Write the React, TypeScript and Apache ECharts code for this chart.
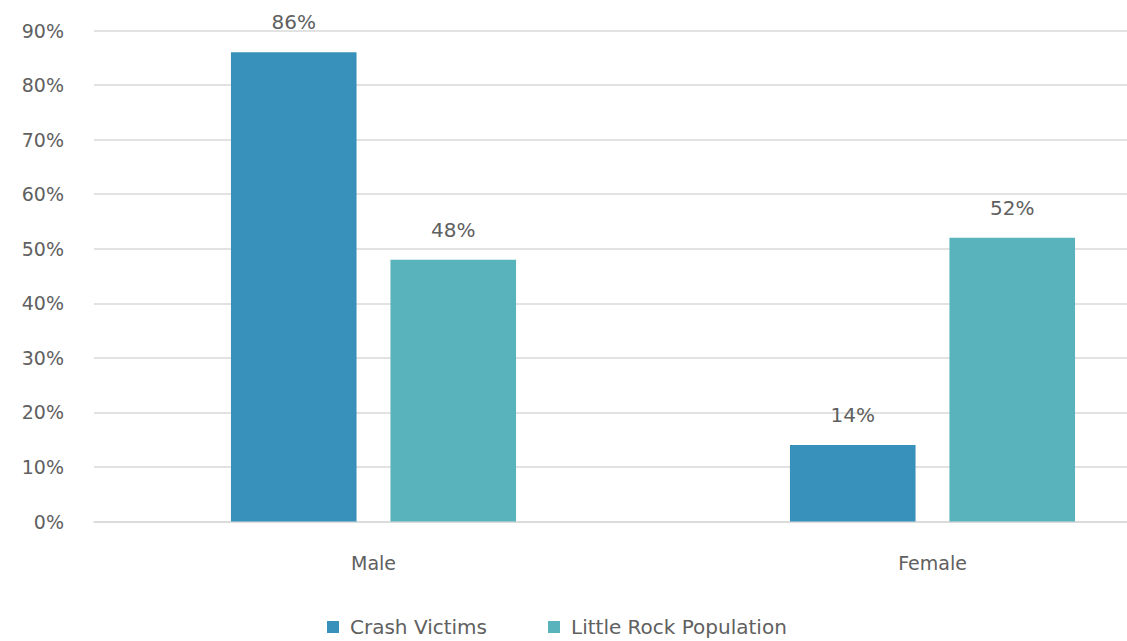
import React, { useEffect, useRef } from "react";
import * as echarts from "echarts";

const categories = ["Male", "Female"];
const crashVictims = [86, 14];
const population = [48, 52];
const seriesNames = ["Crash Victims", "Little Rock Population"];

const FONT = "DejaVu Sans";
const TEXT = "#606060";

export default function App() {
  const ref = useRef<HTMLDivElement>(null);
  useEffect(() => {
    if (!ref.current) return;
    const chart = echarts.init(ref.current, null, { renderer: "svg" });
    const label = {
      show: true,
      position: "top" as const,
      distance: 20,
      formatter: "{c}%",
      color: TEXT,
      fontSize: 20,
      fontFamily: FONT,
    };
    chart.setOption({
      animation: false,
      backgroundColor: "#ffffff",
      grid: { left: 94, right: 0, top: 30.5, bottom: 119.5, containLabel: false },
      legend: {
        left: 322,
        top: 612,
        itemWidth: 12,
        itemHeight: 12,
        itemGap: 61,
        icon: "rect",
        textStyle: { color: TEXT, fontSize: 20, fontFamily: FONT, padding: [0, 0, 0, 6] },
        data: seriesNames,
      },
      xAxis: {
        type: "category",
        data: categories,
        axisLine: { show: true, lineStyle: { color: "#d9d9d9", width: 1.5 } },
        axisTick: { show: false },
        axisLabel: { color: TEXT, fontSize: 19, fontFamily: FONT, margin: 32 },
      },
      yAxis: {
        type: "value",
        min: 0,
        max: 90,
        interval: 10,
        axisLine: { show: false },
        axisTick: { show: false },
        splitLine: { lineStyle: { color: "#d9d9d9", width: 1.5 } },
        axisLabel: { color: TEXT, fontSize: 19, fontFamily: FONT, margin: 30, formatter: "{value}%" },
      },
      series: [
        {
          name: seriesNames[0],
          type: "bar",
          data: crashVictims,
          itemStyle: { color: "#3891BB" },
          barGap: "27%",
          barCategoryGap: "49%",
          label,
        },
        {
          name: seriesNames[1],
          type: "bar",
          data: population,
          itemStyle: { color: "#58B3BD" },
          barGap: "27%",
          barCategoryGap: "49%",
          label,
        },
      ],
    });
    return () => chart.dispose();
  }, []);
  return (
    <div style={{ position: "fixed", left: 0, top: 0, width: 1127, height: 641, overflow: "hidden" }}>
      <div ref={ref} style={{ position: "absolute", left: 0, top: 0, width: 1212, height: 641 }} />
    </div>
  );
}
